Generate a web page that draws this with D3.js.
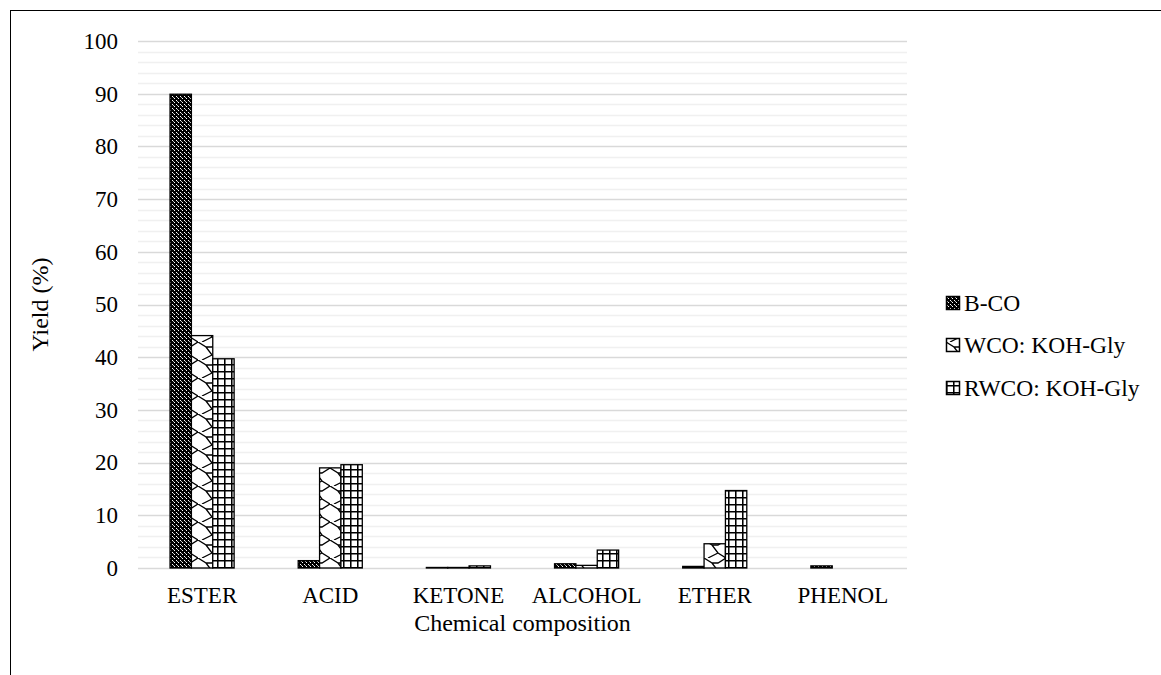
<!DOCTYPE html>
<html>
<head>
<meta charset="utf-8">
<script src="https://cdn.jsdelivr.net/npm/d3@7"></script>
<style>
  body { margin: 0; background: #fff; }
  svg text { font-family: "Liberation Serif", "DejaVu Serif", serif; fill: #000; }
</style>
</head>
<body>
<svg id="chart" width="1161" height="675"></svg>
<script>
const categories = ["ESTER", "ACID", "KETONE", "ALCOHOL", "ETHER", "PHENOL"];
const seriesNames = ["B-CO", "WCO: KOH-Gly", "RWCO: KOH-Gly"];
const bco = [89.9, 1.4, 0.1, 0.8, 0.3, 0.4];
const wco = [44.1, 19.0, 0.1, 0.5, 4.6, 0];
const rwco = [39.7, 19.6, 0.4, 3.4, 14.7, 0];
const yTicks = [0, 10, 20, 30, 40, 50, 60, 70, 80, 90, 100];

const seriesValues = [bco, wco, rwco];
const patternIds = ["pat-bco", "pat-wco", "pat-rwco"];
const FONT = '"Liberation Serif", "DejaVu Serif", serif';

const svg = d3.select("#chart");
const width = 1161, height = 675;
const margin = { top: 41, right: 254, bottom: 107, left: 138 };

// outer frame
svg.append("rect")
  .attr("x", 10.5).attr("y", 10.5)
  .attr("width", 1200).attr("height", 800)
  .attr("fill", "none").attr("stroke", "#000").attr("stroke-width", 1);

// Patterns
const defs = svg.append("defs");

const p1 = defs.append("pattern").attr("id", "pat-bco")
  .attr("patternUnits", "userSpaceOnUse").attr("width", 4).attr("height", 4);
p1.append("rect").attr("width", 4).attr("height", 4).attr("fill", "#000");
p1.append("rect").attr("x", 0).attr("y", 0).attr("width", 1).attr("height", 1).attr("fill", "#fff");
p1.append("rect").attr("x", 2).attr("y", 2).attr("width", 1).attr("height", 1).attr("fill", "#fff");
p1.append("rect").attr("x", 1).attr("y", 1).attr("width", 1).attr("height", 1).attr("fill", "#bbb");

const p2 = defs.append("pattern").attr("id", "pat-wco")
  .attr("patternUnits", "userSpaceOnUse").attr("width", 22).attr("height", 18);
p2.append("rect").attr("width", 22).attr("height", 18).attr("fill", "#fff");
p2.append("path")
  .attr("d", "M0,0 L8,5 L14,13 L22,18 M14,13 L4,18 M22,0 L14,5 L8,5")
  .attr("fill", "none").attr("stroke", "#000").attr("stroke-width", 1.3);

const p3 = defs.append("pattern").attr("id", "pat-rwco")
  .attr("patternUnits", "userSpaceOnUse").attr("width", 7).attr("height", 7);
p3.append("rect").attr("width", 7).attr("height", 7).attr("fill", "#fff");
p3.append("path")
  .attr("d", "M0,0.75 H7 M0.75,0 V7")
  .attr("fill", "none").attr("stroke", "#000").attr("stroke-width", 1.6);

// Scales
const x = d3.scaleBand()
  .domain(categories)
  .range([margin.left, width - margin.right]);

const xs = d3.scaleBand()
  .domain(d3.range(seriesNames.length))
  .range([x.step() * 0.25, x.step() * 0.75]);

const y = d3.scaleLinear()
  .domain([0, 100])
  .range([height - margin.bottom, margin.top]);

// Gridlines (minor then major)
const grid = svg.append("g");
grid.selectAll("line.minor")
  .data(d3.range(0, 101, 2).filter(v => v % 10 !== 0))
  .join("line")
  .attr("x1", margin.left).attr("x2", width - margin.right)
  .attr("y1", d => Math.round(y(d)) + 0.5).attr("y2", d => Math.round(y(d)) + 0.5)
  .attr("stroke", "#f0f0f0").attr("stroke-width", 1.5);
grid.selectAll("line.major")
  .data(yTicks)
  .join("line")
  .attr("x1", margin.left).attr("x2", width - margin.right)
  .attr("y1", d => Math.round(y(d)) + 0.5).attr("y2", d => Math.round(y(d)) + 0.5)
  .attr("stroke", "#d9d9d9").attr("stroke-width", 1.5);

// Bars
seriesValues.forEach((vals, si) => {
  svg.append("g")
    .selectAll("rect")
    .data(categories.map((c, i) => ({ c, v: vals[i] })).filter(d => d.v > 0))
    .join("rect")
    .attr("x", d => x(d.c) + xs(si))
    .attr("y", d => y(d.v))
    .attr("width", xs.bandwidth())
    .attr("height", d => y(0) - y(d.v))
    .attr("fill", `url(#${patternIds[si]})`)
    .attr("stroke", "#000")
    .attr("stroke-width", 1.3);
});

// Axes
const yAxis = svg.append("g")
  .attr("transform", `translate(${margin.left},0)`)
  .call(d3.axisLeft(y).tickValues(yTicks).tickSize(0).tickPadding(20));
yAxis.attr("font-family", FONT).attr("font-size", 23);
yAxis.select(".domain").remove();

const xAxis = svg.append("g")
  .attr("transform", `translate(0,${height - margin.bottom})`)
  .call(d3.axisBottom(x).tickSize(0).tickPadding(19));
xAxis.attr("font-family", FONT).attr("font-size", 23);
xAxis.select(".domain").remove();

// Axis titles
svg.append("text")
  .attr("x", (margin.left + width - margin.right) / 2)
  .attr("y", 631)
  .attr("text-anchor", "middle")
  .attr("font-family", FONT)
  .attr("font-size", 24)
  .text("Chemical composition");

svg.append("text")
  .attr("transform", "rotate(-90)")
  .attr("x", -(margin.top + height - margin.bottom) / 2)
  .attr("y", 48)
  .attr("text-anchor", "middle")
  .attr("font-family", FONT)
  .attr("font-size", 24)
  .text("Yield (%)");

// Legend
const legend = svg.append("g").attr("transform", "translate(946,0)");
const legY = [303, 345, 388];
seriesNames.forEach((name, i) => {
  legend.append("rect")
    .attr("x", 0.5).attr("y", legY[i] - 6.5)
    .attr("width", 13).attr("height", 13)
    .attr("fill", `url(#${patternIds[i]})`)
    .attr("stroke", "#000").attr("stroke-width", 1.5);
  legend.append("text")
    .attr("x", 18).attr("y", legY[i])
    .attr("dy", "0.35em")
    .attr("font-family", FONT)
    .attr("font-size", 23.5)
    .text(name);
});
</script>
</body>
</html>
